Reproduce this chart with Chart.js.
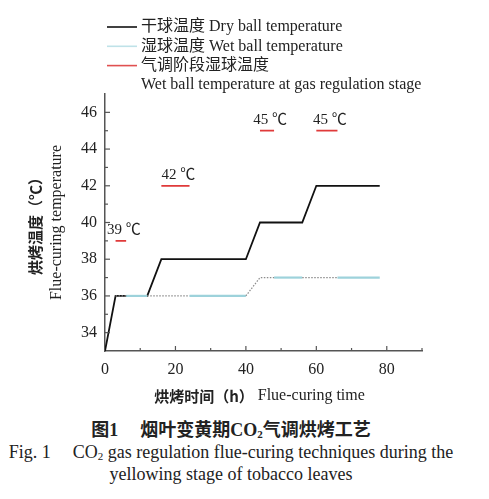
<!DOCTYPE html>
<html>
<head>
<meta charset="utf-8">
<script src="https://cdn.jsdelivr.net/npm/chart.js@4/dist/chart.umd.min.js"></script>
<style>
  body { margin: 0; background: #fff; }
  #wrap { position: relative; width: 489px; height: 410px; }
  .cap { width: 462px; text-align: center; color: #222; font-family: "Liberation Serif", "Noto Sans CJK SC", serif; white-space: nowrap; }
  .cap1 { font-size: 18px; font-weight: bold; line-height: 22px; margin-top: 9px; }
  .cap2 { font-size: 18px; line-height: 22px; }
  .gap { display: inline-block; width: 22px; }
  sub { font-size: 11px; vertical-align: -2px; line-height: 0; }
</style>
</head>
<body>
<div id="wrap"><canvas id="chartContainer"></canvas></div>
<div class="cap cap1">图1<span class="gap"></span>烟叶变黄期CO<sub>2</sub>气调烘烤工艺</div>
<div class="cap cap2">Fig. 1<span class="gap"></span>CO<sub>2</sub> gas regulation flue-curing techniques during the<br>yellowing stage of tobacco leaves</div>
<script>
"use strict";

// 1: data
// dry ball temperature (black line)
const dryHours = [0, 3, 12, 16, 40, 44, 56, 60, 78];
const dryTemps = [33, 36, 36, 38, 38, 40, 40, 42, 42];
// wet ball temperature (cyan line, dotted during gas regulation)
const wetHours = [3, 6, 12, 24, 40, 44, 48, 56, 66, 78];
const wetTemps = [36, 36, 36, 36, 36, 37, 37, 37, 37, 37];
// 1 = segment belongs to a gas regulation stage
const wetGasStage = [1, 0, 1, 0, 1, 1, 0, 1, 0];
// red marks: wet ball temperature at gas regulation stage
const gasStart = [3, 16, 44, 60];
const gasEnd = [6, 24, 48, 66];
const gasTemps = [39, 42, 45, 45];
const gasLabels = ['39 ℃', '42 ℃', '45 ℃', '45 ℃'];
// axes
const xTicks = [0, 20, 40, 60, 80];
const yTicks = [34, 36, 38, 40, 42, 44, 46];
const legendLabels = [
  ['干球温度 Dry ball temperature'],
  ['湿球温度 Wet ball temperature'],
  ['气调阶段湿球温度', 'Wet ball temperature at gas regulation stage']
];

const SERIF = '"Liberation Serif", "Noto Sans CJK SC", serif';
const CJK_BOLD = 'bold 15px "Noto Sans CJK SC"';

function toPoints(xs, ys) {
  return xs.map((v, i) => ({ x: v, y: ys[i] }));
}

// red segments with gaps between them
let gasPoints = [];
for (let i = 0; i < gasStart.length; i++) {
  gasPoints.push({ x: gasStart[i], y: gasTemps[i] });
  gasPoints.push({ x: gasEnd[i], y: gasTemps[i] });
  gasPoints.push({ x: gasEnd[i], y: null });
}

// 2: drawing extras (inward ticks, titles, legend, labels)
const extras = {
  id: 'extras',
  afterDraw(chart) {
    const { ctx, chartArea: a, scales: { x, y } } = chart;
    ctx.save();
    // inward ticks
    ctx.strokeStyle = '#555';
    ctx.lineWidth = 1.2;
    for (let v = 10; v <= 90; v += 10) {
      const px = x.getPixelForValue(v);
      const len = v % 20 === 0 ? 5 : 3;
      ctx.beginPath(); ctx.moveTo(px, a.bottom); ctx.lineTo(px, a.bottom - len); ctx.stroke();
    }
    for (let v = 34; v <= 46; v += 1) {
      const py = y.getPixelForValue(v);
      const len = v % 2 === 0 ? 5 : 3;
      ctx.beginPath(); ctx.moveTo(a.left, py); ctx.lineTo(a.left + len, py); ctx.stroke();
    }

    ctx.fillStyle = '#222';
    ctx.textBaseline = 'middle';

    // labels above red marks
    ctx.font = '15px ' + SERIF;
    ctx.textAlign = 'center';
    gasLabels.forEach((t, i) => {
      const px = x.getPixelForValue((gasStart[i] + gasEnd[i]) / 2) + 3;
      const py = y.getPixelForValue(gasTemps[i]) - 11;
      ctx.fillText(t, px, py);
    });

    // x axis title: bold chinese + regular english
    const xt1 = '烘烤时间（h）', xt2 = ' Flue-curing time';
    ctx.font = CJK_BOLD;
    const w1 = ctx.measureText(xt1).width;
    ctx.font = '16px ' + SERIF;
    const w2 = ctx.measureText(xt2).width;
    let sx = (a.left + a.right) / 2 - 4 - (w1 + w2) / 2;
    const ty = a.bottom + 45;
    ctx.textAlign = 'left';
    ctx.font = CJK_BOLD;
    ctx.fillText(xt1, sx, ty);
    ctx.font = '16px ' + SERIF;
    ctx.fillText(xt2, sx + w1, ty);

    // y axis title, two rotated lines
    ctx.save();
    ctx.translate(35, (a.top + a.bottom) / 2);
    ctx.rotate(-Math.PI / 2);
    ctx.textAlign = 'center';
    ctx.font = CJK_BOLD;
    ctx.fillText('烘烤温度（℃）', 0, 0);
    ctx.font = '16px ' + SERIF;
    ctx.fillText('Flue-curing temperature', 0, 22);
    ctx.restore();

    // legend
    const colors = chart.data.datasets.map(d => d.legendColor);
    let ly = 27;
    ctx.textAlign = 'left';
    ctx.font = '16px ' + SERIF;
    legendLabels.forEach((lines, i) => {
      ctx.strokeStyle = colors[i];
      ctx.lineWidth = 1.6;
      ctx.beginPath(); ctx.moveTo(107, ly); ctx.lineTo(137, ly); ctx.stroke();
      lines.forEach(t => {
        ctx.fillText(t, 141, ly);
        ly += 19.3;
      });
    });
    ctx.restore();
  }
};

// 3: create the chart
const chart = new Chart(document.getElementById('chartContainer'), {
  type: 'line',
  data: {
    datasets: [{
      label: 'Dry ball temperature',
      data: toPoints(dryHours, dryTemps),
      borderColor: '#111',
      legendColor: '#111',
      borderWidth: 1.8,
      pointRadius: 0,
      order: 2
    }, {
      label: 'Wet ball temperature',
      data: toPoints(wetHours, wetTemps),
      borderColor: '#9dd2db',
      legendColor: '#bfe2e8',
      borderWidth: 2.2,
      pointRadius: 0,
      order: 1,
      segment: {
        borderColor: c => wetGasStage[c.p0DataIndex] ? '#8c8c8c' : '#9dd2db',
        borderDash: c => wetGasStage[c.p0DataIndex] ? [1.5, 1.5] : undefined,
        borderWidth: c => wetGasStage[c.p0DataIndex] ? 1.2 : 2.2
      }
    }, {
      label: 'Wet ball temperature at gas regulation stage',
      data: gasPoints,
      borderColor: '#e03a3a',
      legendColor: '#e05050',
      borderWidth: 1.8,
      pointRadius: 0,
      spanGaps: false,
      order: 0
    }]
  },
  options: {
    responsive: true,
    maintainAspectRatio: false,
    animation: false,
    layout: { padding: { left: 0, top: 94, right: 67, bottom: 0 } },
    plugins: { legend: { display: false }, tooltip: { enabled: false } },
    scales: {
      x: {
        type: 'linear',
        min: 0,
        max: 90,
        afterBuildTicks: s => { s.ticks = xTicks.map(v => ({ value: v })); },
        afterFit: s => { s.height = 410 - 351; },
        grid: { drawOnChartArea: false, drawTicks: false },
        border: { color: '#555', width: 1.5 },
        ticks: { padding: 9, color: '#222', font: { family: SERIF, size: 16 }, maxRotation: 0 }
      },
      y: {
        min: 33,
        max: 47,
        afterBuildTicks: s => { s.ticks = yTicks.map(v => ({ value: v })); },
        afterFit: s => { s.width = 105; },
        grid: { drawOnChartArea: false, drawTicks: false },
        border: { color: '#555', width: 1.5 },
        ticks: { padding: 8, color: '#222', font: { family: SERIF, size: 16 } }
      }
    }
  },
  plugins: [extras]
});
</script>
</body>
</html>
